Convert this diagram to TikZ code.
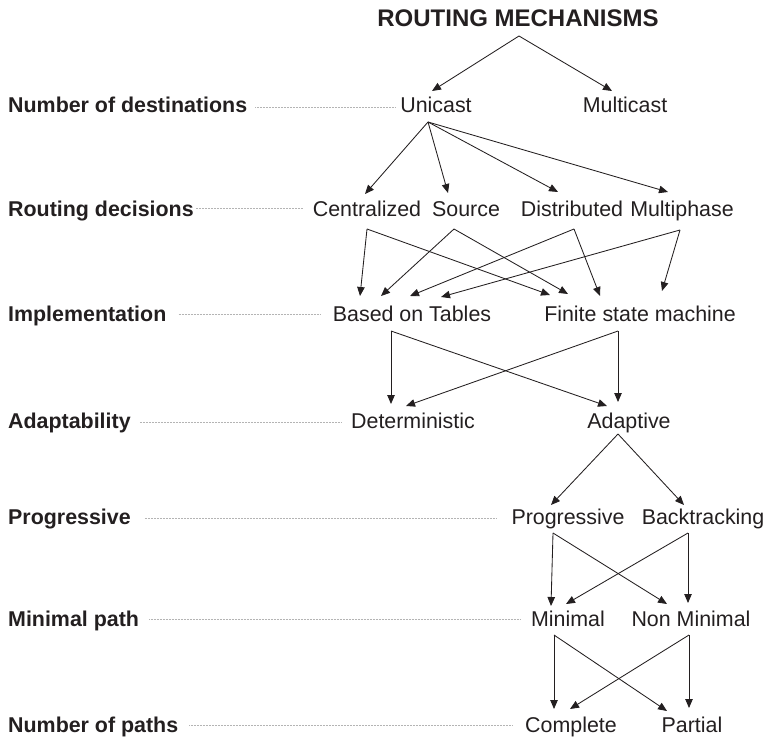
\documentclass[tikz,border=0pt]{standalone}
\usepackage{fontspec}
\setmainfont{Liberation Sans}
\usetikzlibrary{arrows.meta}
\definecolor{ink}{HTML}{231F20}
\definecolor{guide}{HTML}{B4B4B4}
\begin{document}
\begin{tikzpicture}[x=1pt,y=-1pt,
  item/.style={anchor=base, inner sep=0pt, text=ink, font=\fontsize{21.4}{24}\selectfont},
  level/.style={anchor=base west, inner sep=0pt, text=ink, font=\fontsize{21.4}{24}\selectfont\bfseries},
  headline/.style={anchor=base, inner sep=0pt, text=ink, font=\fontsize{24}{28}\selectfont\bfseries},
  link/.style={draw=ink, line width=0.85pt, -{Triangle[length=9pt,width=7.5pt]}},
  guideline/.style={draw=guide, line width=0.7pt, dash pattern=on 0.8pt off 0.7pt},
]
\useasboundingbox (0,0) rectangle (765,738);

% title
\node[headline] (T) at (518,27) {ROUTING MECHANISMS};

% category labels on the left
\node[level] (L1) at (8,113) {Number of destinations};
\node[level] (L2) at (8,216) {Routing decisions};
\node[level] (L3) at (8,321) {Implementation};
\node[level] (L4) at (8,428) {Adaptability};
\node[level] (L5) at (8,524) {Progressive};
\node[level] (L6) at (8,626) {Minimal path};
\node[level] (L7) at (8,732) {Number of paths};

% options of each level
\node[item] (U)  at (436,113) {Unicast};
\node[item] (MC) at (625,113) {Multicast};

\node[item] (C)  at (367,216) {Centralized};
\node[item] (S)  at (466,216) {Source};
\node[item] (D)  at (572,216) {Distributed};
\node[item] (MP) at (682,216) {Multiphase};

\node[item] (B)  at (412,321) {Based on Tables};
\node[item] (F)  at (640,321) {Finite state machine};

\node[item] (Dt) at (413,428) {Deterministic};
\node[item] (A)  at (629,428) {Adaptive};

\node[item] (P)  at (568,524) {Progressive};
\node[item] (Bt) at (703,524) {Backtracking};

\node[item] (Mn) at (568,626) {Minimal};
\node[item] (NM) at (691,626) {Non Minimal};

\node[item] (Cp) at (571,732) {Complete};
\node[item] (Pa) at (692,732) {Partial};

% dotted guides from each label to its row
\draw[guideline] ([shift={(8,-6)}]L1.base east)  -- ([shift={(-5,-6)}]U.base west);
\draw[guideline] ([shift={(2,-8)}]L2.base east)  -- ([shift={(-9,-8)}]C.base west);
\draw[guideline] ([shift={(12,-7)}]L3.base east) -- ([shift={(-13,-7)}]B.base west);
\draw[guideline] ([shift={(9,-6)}]L4.base east)  -- ([shift={(-10,-6)}]Dt.base west);
\draw[guideline] ([shift={(14,-6)}]L5.base east) -- ([shift={(-14,-6)}]P.base west);
\draw[guideline] ([shift={(10,-7)}]L6.base east) -- ([shift={(-11,-7)}]Mn.base west);
\draw[guideline] ([shift={(11,-7)}]L7.base east) -- ([shift={(-12,-7)}]Cp.base west);

% title -> number of destinations
\draw[link] ([shift={(1,9)}]T.base) -- ([shift={(-4,-22)}]U.base);
\draw[link] ([shift={(1,9)}]T.base) -- ([shift={(-13,-22)}]MC.base);

% unicast -> routing decisions
\draw[link] ([shift={(-8,9)}]U.base) -- ([shift={(-2,-22)}]C.base);
\draw[link] ([shift={(-8,9)}]U.base) -- ([shift={(-18,-23)}]S.base);
\draw[link] ([shift={(-8,9)}]U.base) -- ([shift={(-14,-24)}]D.base);
\draw[link] ([shift={(-8,9)}]U.base) -- ([shift={(-14,-24)}]MP.base);

% routing decisions -> implementation
\draw[link] ([shift={(0,13)}]C.base)   -- ([shift={(-52,-25)}]B.base);
\draw[link] ([shift={(0,13)}]C.base)   -- ([shift={(-90,-26)}]F.base);
\draw[link] ([shift={(-12,13)}]S.base) -- ([shift={(-31,-25)}]B.base);
\draw[link] ([shift={(-12,13)}]S.base) -- ([shift={(-72,-27)}]F.base);
\draw[link] ([shift={(2,13)}]D.base)   -- ([shift={(-2,-25)}]B.base);
\draw[link] ([shift={(2,13)}]D.base)   -- ([shift={(-40,-25)}]F.base);
\draw[link] ([shift={(-2,14)}]MP.base) -- ([shift={(29,-24)}]B.base);
\draw[link] ([shift={(-2,14)}]MP.base) -- ([shift={(22,-30)}]F.base);

% implementation -> adaptability
\draw[link] ([shift={(-21,10)}]B.base) -- ([shift={(-22,-24)}]Dt.base);
\draw[link] ([shift={(-21,10)}]B.base) -- ([shift={(-22,-22)}]A.base);
\draw[link] ([shift={(-22,10)}]F.base) -- ([shift={(-7,-22)}]Dt.base);
\draw[link] ([shift={(-22,10)}]F.base) -- ([shift={(-11,-26)}]A.base);

% adaptive -> progressiveness
\draw[link] ([shift={(-11,6)}]A.base) -- ([shift={(-17,-19)}]P.base);
\draw[link] ([shift={(-11,6)}]A.base) -- ([shift={(-19,-19)}]Bt.base);

% progressiveness -> minimal path
\draw[link] ([shift={(-15,9)}]P.base)  -- ([shift={(-17,-20)}]Mn.base);
\draw[link] ([shift={(-15,9)}]P.base)  -- ([shift={(-24,-22)}]NM.base);
\draw[link] ([shift={(-15,9)}]Bt.base) -- ([shift={(-2,-22)}]Mn.base);
\draw[link] ([shift={(-15,9)}]Bt.base) -- ([shift={(-3,-23)}]NM.base);

% minimal path -> number of paths
\draw[link] ([shift={(-14,9)}]Mn.base) -- ([shift={(-17,-23)}]Cp.base);
\draw[link] ([shift={(-14,9)}]Mn.base) -- ([shift={(-25,-21)}]Pa.base);
\draw[link] ([shift={(-2,9)}]NM.base)  -- ([shift={(-1,-23)}]Cp.base);
\draw[link] ([shift={(-2,9)}]NM.base)  -- ([shift={(-3,-24)}]Pa.base);
\end{tikzpicture}
\end{document}
